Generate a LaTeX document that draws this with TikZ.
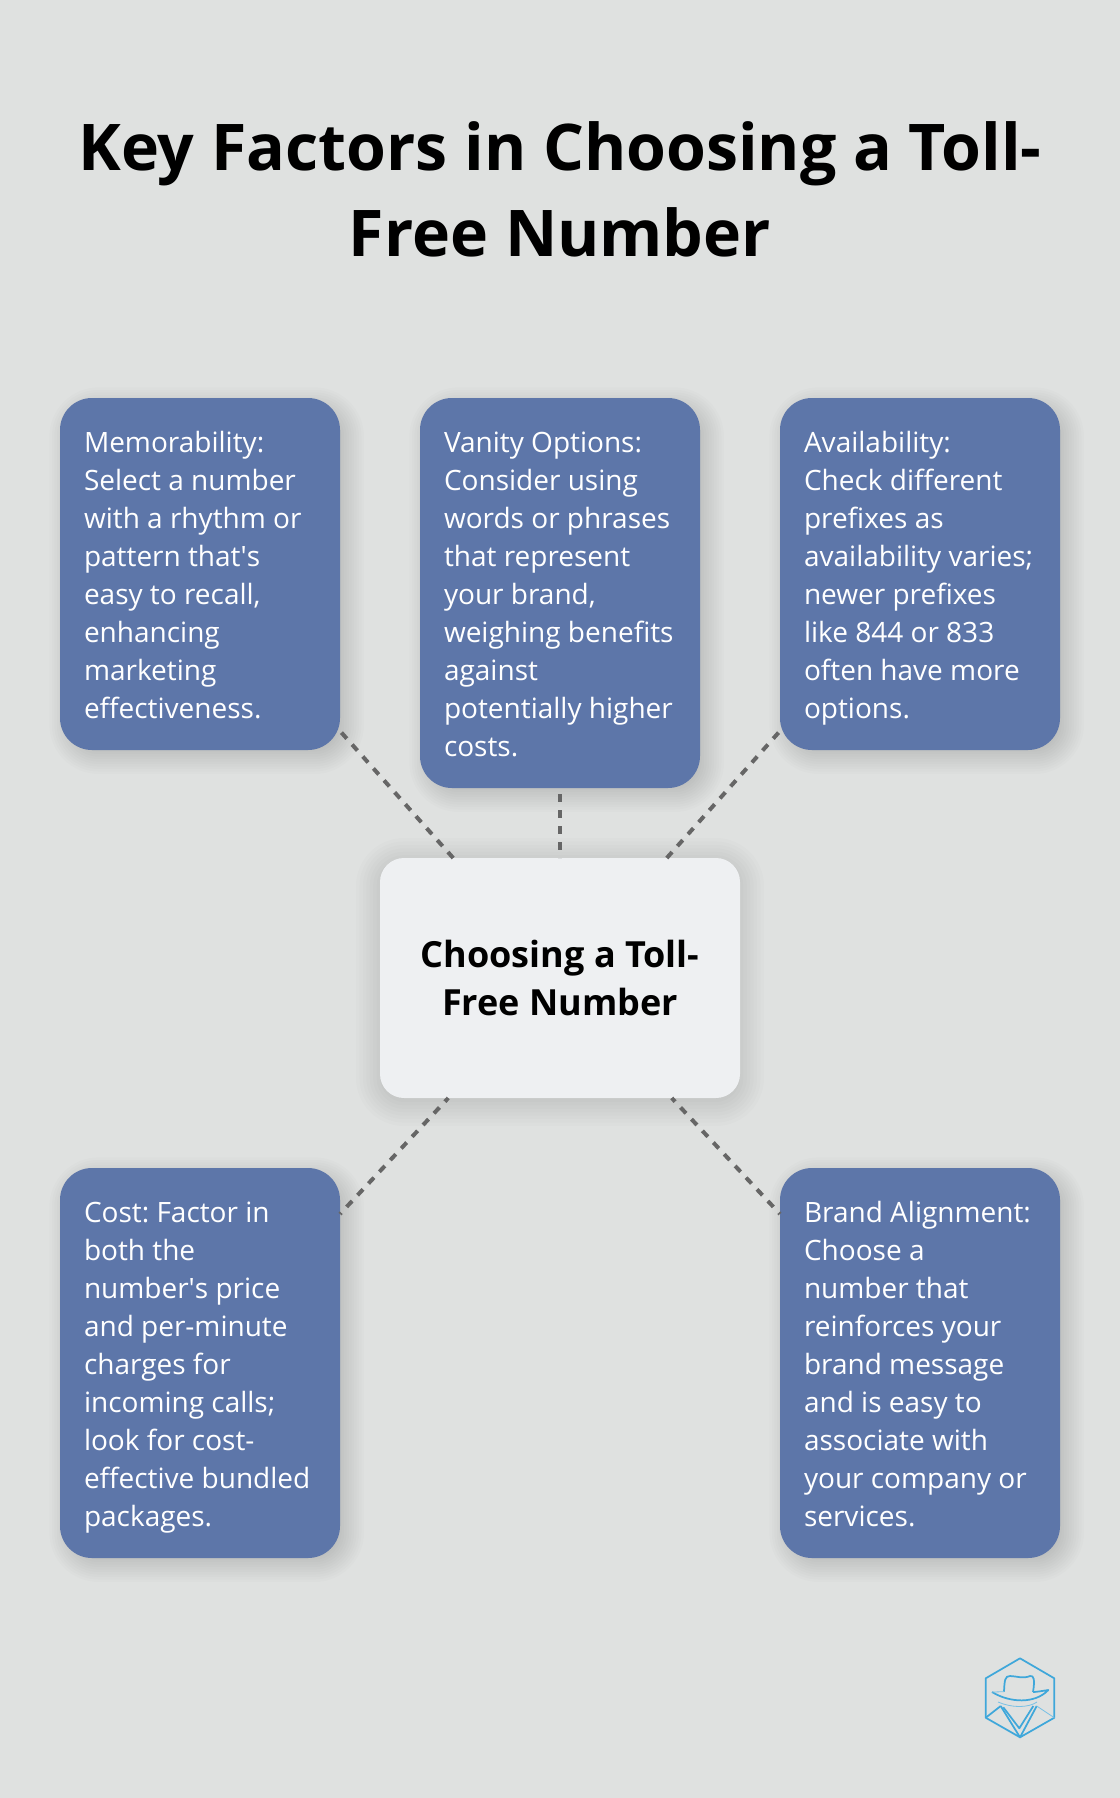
\documentclass[tikz,border=0pt]{standalone}
\usepackage{fontspec}
\setmainfont{Open Sans}
\definecolor{pagegray}{HTML}{DFE1E0}
\definecolor{factorblue}{HTML}{5D76A9}
\definecolor{hubwhite}{HTML}{EEF0F2}
\definecolor{linkgray}{HTML}{666666}
\definecolor{logoblue}{HTML}{3FA7DA}
\pgfdeclarelayer{shade}
\pgfsetlayers{shade,main}
\newcommand{\linestrut}{\rule[-6pt]{0pt}{28.5pt}}
% node, x offset, y offset, spread, opacity of one step, corner
\newcommand{\softshadow}[6]{
	\foreach \k in {1,...,14}{
		\pgfmathsetlengthmacro{\grow}{#4*(\k/7-1)}
		\pgfmathsetlengthmacro{\bend}{max(#6+\grow,1pt)}
		\fill[black, opacity=#5, rounded corners=\bend]
			([xshift=#2-\grow, yshift=#3-\grow]#1.south west) rectangle ([xshift=#2+\grow, yshift=#3+\grow]#1.north east);
	}
}
\tikzset{
	factor/.style={anchor=north west, fill=factorblue, text=white, rounded corners=24pt, outer sep=0pt,
		inner xsep=18pt, inner ysep=18pt, text width=174pt, align=flush left,
		font=\fontsize{21}{28.5}\selectfont\frenchspacing},
	hub/.style={fill=hubwhite, text=black, rounded corners=18pt, outer sep=0pt, minimum width=270pt, minimum height=180pt,
		align=center, font=\fontsize{27}{36}\selectfont\bfseries},
	link/.style={draw=linkgray, line width=3pt, dash pattern=on 6pt off 6pt},
	logoline/.style={draw=logoblue, line width=1.3pt, line join=round},
	logothin/.style={draw=logoblue!70, line width=0.6pt}
}
\begin{document}
\begin{tikzpicture}[x=0.75pt,y=-0.75pt]
	\useasboundingbox (0,0) rectangle (1120,1798);
	\begin{pgfonlayer}{shade}
		\fill[pagegray] (0,0) rectangle (1120,1798);
	\end{pgfonlayer}
	% title
	\node[align=center, font=\fontsize{48.3}{64.5}\selectfont\bfseries] (heading) at (560,189) {Key Factors in Choosing a Toll-\\Free Number};
	% boxes
	\node[factor] (memorability) at (60,398) {\linestrut Memorability:\\Select a number\\with a rhythm or\\pattern that\textquotesingle s\\easy to recall,\\enhancing\\marketing\\effectiveness.\linestrut};
	\node[factor] (vanity) at (420,398) {\linestrut Vanity Options:\\Consider using\\words or phrases\\that represent\\your brand,\\weighing benefits\\against\\potentially higher\\costs.\linestrut};
	\node[factor] (availability) at (780,398) {\linestrut Availability:\\Check different\\prefixes as\\availability varies;\\newer prefixes\\like 844 or 833\\often have more\\options.\linestrut};
	\node[factor] (cost) at (60,1168) {\linestrut Cost: Factor in\\both the\\number\textquotesingle s price\\and per-minute\\charges for\\incoming calls;\\look for cost-\\effective bundled\\packages.\linestrut};
	\node[factor] (brand) at (780,1168) {\linestrut Brand Alignment:\\Choose a\\number that\\reinforces your\\brand message\\and is easy to\\associate with\\your company or\\services.\linestrut};
	\node[hub] (center) at (560,978) {Choosing a Toll-\\Free Number};
	% shadows
	\begin{pgfonlayer}{shade}
		\foreach \name in {memorability,vanity,availability,cost,brand}{
			\softshadow{\name}{5pt}{-5pt}{13pt}{0.012}{24pt}
		}
		\softshadow{center}{0pt}{-3pt}{18pt}{0.011}{18pt}
	\end{pgfonlayer}
	% links
	\draw[link, dash phase=10.35pt] (memorability) -- (center);
	\draw[link, dash phase=7.5pt] (vanity) -- (center);
	\draw[link, dash phase=10.35pt] (availability) -- (center);
	\draw[link, dash phase=4.7pt] (cost) -- (center);
	\draw[link, dash phase=4.7pt] (brand) -- (center);
	% logo
	\draw[logoline] (1020,1658.3) -- (1054.3,1678.3) -- (1054.3,1717.7) -- (1020,1737.3) -- (985.7,1717.7) -- (985.7,1678.3) -- cycle;
	\draw[logoline] (1004,1691.7) .. controls (1004.5,1680) and (1005,1676) .. (1010,1676) .. controls (1016,1676) and (1023,1679) .. (1030,1676) .. controls (1034,1675) and (1035,1680) .. (1033,1692);
	\draw[logoline] (992,1692) .. controls (1010,1703) and (1035,1704) .. (1048.3,1690) .. controls (1042,1691) and (1036,1692) .. (1033,1692);
	\draw[logothin] (992,1692) -- (1004,1691.7);
	\draw[logothin] (998,1702) .. controls (1012,1708) and (1028,1708) .. (1037,1702);
	\draw[logoline] (1000.7,1706) -- (1020,1737.3) -- (1036.7,1706);
	\draw[logoline] (1003.3,1707.3) -- (1019.3,1728.3) -- (1033.3,1706);
	\draw[logoline] (985.7,1717.7) -- (1000.7,1706);
	\draw[logothin] (1036.7,1706) -- (1054.3,1717.7);
\end{tikzpicture}
\end{document}
